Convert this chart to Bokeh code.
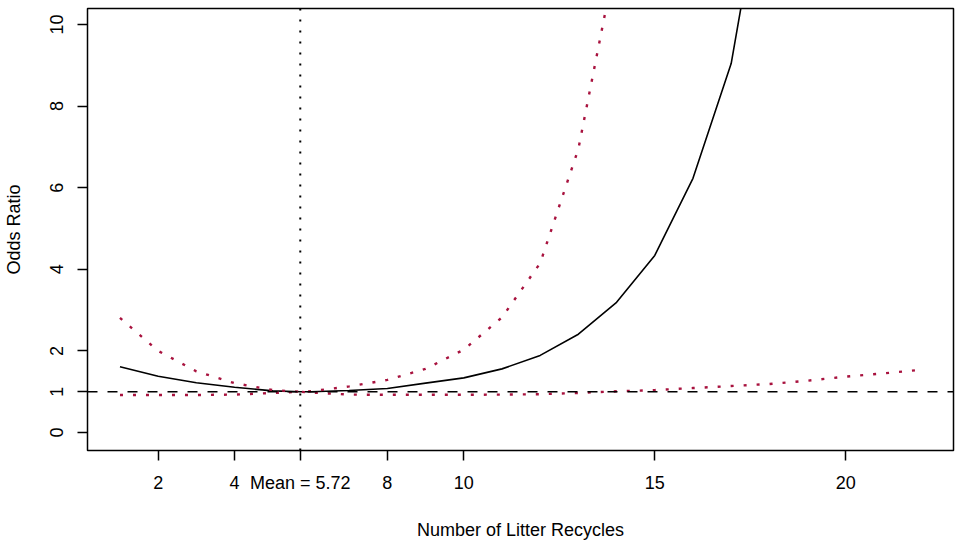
from bokeh.plotting import figure
from bokeh.models import Span, FixedTicker, CustomJSTickFormatter
from bokeh.embed import file_html
from bokeh.resources import INLINE

# ---- data ----
x_vals = [1, 2, 3, 4, 5, 5.72, 6, 7, 8, 9, 10, 11, 12, 13, 14, 15, 16, 17, 18, 19, 20, 21, 22]
odds_ratio = [1.61, 1.38, 1.22, 1.11, 1.02, 1.00, 1.00, 1.03, 1.08, 1.21, 1.34, 1.56, 1.89,
              2.41, 3.19, 4.34, 6.23, 9.04, 14.4]
upper_ci = [2.81, 2.00, 1.50, 1.21, 1.04, 1.00, 1.01, 1.13, 1.29, 1.56, 2.03, 2.82, 4.15,
            6.95, 11.7]
lower_ci = [0.92, 0.92, 0.92, 0.93, 0.97, 1.00, 0.98, 0.93, 0.925, 0.925, 0.925, 0.93, 0.94,
            0.97, 1.01, 1.04, 1.09, 1.14, 1.19, 1.27, 1.37, 1.45, 1.54]
mean_recycles = 5.72
reference_or = 1.0
x_tick_values = [2, 4, 5.72, 8, 10, 15, 20]
x_tick_labels = ["2", "4", "Mean = 5.72", "8", "10", "15", "20"]
y_tick_values = [0, 1, 2, 4, 6, 8, 10]

FONT = "Liberation Sans"
RED = "#A8123E"

p = figure(frame_width=866, frame_height=442,
           x_range=(0.15, 22.82), y_range=(-0.44, 10.39),
           output_backend="svg", toolbar_location=None,
           min_border_left=80, min_border_right=2, min_border_top=8, min_border_bottom=85,
           background_fill_color="white", border_fill_color="white")
p.grid.visible = False
p.outline_line_color = "black"
p.outline_line_width = 1.5

p.line(x_vals[:len(odds_ratio)], odds_ratio, line_color="black", line_width=1.6)
p.line(x_vals[:len(upper_ci)], upper_ci, line_color=RED, line_width=2.4, line_dash="3 10")
p.line(x_vals[:len(lower_ci)], lower_ci, line_color=RED, line_width=2.4, line_dash="3 10")

p.add_layout(Span(location=reference_or, dimension="width", line_color="black",
                  line_width=1.7, line_dash="10 10"))
p.add_layout(Span(location=mean_recycles, dimension="height", line_color="black",
                  line_width=2, line_dash="2 9"))

xa = p.xaxis[0]
xa.ticker = FixedTicker(ticks=x_tick_values)
xa.formatter = CustomJSTickFormatter(args=dict(vals=x_tick_values, labs=x_tick_labels), code="""
for (let i = 0; i < vals.length; i++) { if (Math.abs(vals[i] - tick) < 1e-6) return labs[i]; }
return String(tick);
""")
xa.axis_label = "Number of Litter Recycles"

ya = p.yaxis[0]
ya.ticker = FixedTicker(ticks=y_tick_values)
ya.major_label_orientation = "vertical"
ya.axis_label = "Odds Ratio"

for ax in (xa, ya):
    ax.axis_line_color = None
    ax.major_tick_line_color = "black"
    ax.major_tick_line_width = 1.5
    ax.major_tick_out = 10
    ax.major_tick_in = 0
    ax.minor_tick_line_color = None
    ax.major_label_text_font = FONT
    ax.major_label_text_font_size = "18px"
    ax.major_label_text_color = "black"
    ax.axis_label_text_font = FONT
    ax.axis_label_text_font_size = "18px"
    ax.axis_label_text_font_style = "normal"
    ax.axis_label_text_color = "black"

xa.major_label_standoff = 12
xa.axis_label_standoff = 24
ya.major_label_standoff = 14
ya.axis_label_standoff = 24

open("out.html", "w").write(file_html(p, INLINE))
